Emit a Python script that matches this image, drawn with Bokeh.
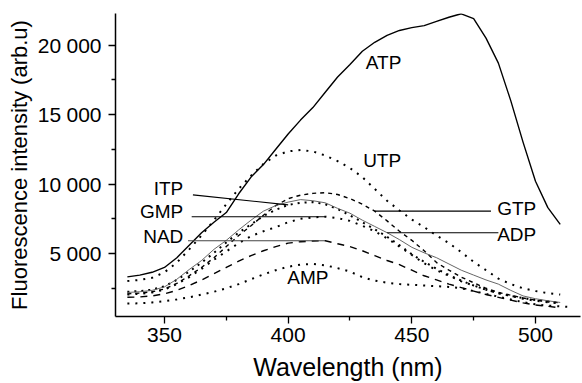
from bokeh.plotting import figure
from bokeh.models import Range1d, FixedTicker, CustomJSTickFormatter
from bokeh.core.properties import value
from bokeh.embed import file_html
from bokeh.resources import INLINE

# ---------------- data ----------------
wavelength = [335, 340, 345, 350, 355, 360, 365, 370, 375, 380, 385, 390, 395, 400,
              405, 410, 415, 420, 425, 430, 435, 440, 445, 450, 455, 460, 465, 470,
              475, 480, 485, 490, 495, 500, 505, 510, 515]

atp = [3320, 3450, 3650, 4000, 4700, 5600, 6500, 7250, 7950, 9300, 10500, 11400, 12500, 13600,
       14600, 15500, 16600, 17700, 18600, 19550, 20200, 20700, 21050, 21250, 21400, 21700, 22000, 22250,
       21900, 20500, 18700, 16000, 13000, 10200, 8300, 7100]
utp = [3020, 3100, 3250, 3650, 4350, 5300, 6300, 7400, 8550, 9650, 10600, 11450, 12050, 12350,
       12450, 12350, 12050, 11650, 11150, 10500, 9650, 8800, 8100, 7450, 6900, 6300, 5750, 5100,
       4400, 3800, 3200, 2800, 2500, 2300, 2150, 2050]
gtp = [2100, 2150, 2250, 2450, 2850, 3400, 4000, 4700, 5500, 6300, 7000, 7750, 8450, 8950,
       9200, 9330, 9380, 9250, 8950, 8550, 8050, 7350, 6600, 5950, 5200, 4350, 3800, 3300,
       2900, 2500, 2200, 2000, 1800, 1650, 1550, 1450]
adp = [2200, 2250, 2350, 2600, 3150, 3850, 4500, 5300, 5950, 6700, 7400, 8050, 8450, 8700,
       8880, 8800, 8650, 8250, 7900, 7400, 6950, 6500, 6000, 5450, 5050, 4700, 4250, 3800,
       3450, 3100, 2800, 2350, 1950, 1750, 1600, 1480]
itp = [2250, 2300, 2400, 2650, 3100, 3700, 4350, 5050, 5800, 6500, 7100, 7700, 8150, 8500,
       8650, 8700, 8550, 8200, 7750, 7250, 6750, 6200, 5600, 4950, 4400, 3900, 3450, 3050,
       2700, 2400, 2150, 1950, 1800, 1650, 1550, 1450]
gmp = [2050, 2100, 2200, 2400, 2800, 3300, 3900, 4550, 5150, 5750, 6250, 6600, 6900, 7250,
       7500, 7600, 7650, 7550, 7350, 7000, 6600, 6100, 5500, 4900, 4300, 3800, 3400, 3000,
       2700, 2400, 2150, 1950, 1750, 1600, 1500, 1400]
nad = [1850, 1880, 1950, 2100, 2350, 2700, 3100, 3550, 4000, 4450, 4850, 5200, 5500, 5750,
       5850, 5900, 5920, 5700, 5500, 5200, 4850, 4500, 4200, 3800, 3400, 3100, 2800, 2550,
       2300, 2050, 1850, 1650, 1450, 1300, 1200, 1100]
amp = [1400, 1420, 1480, 1580, 1700, 1850, 2050, 2250, 2500, 2800, 3150, 3500, 3800, 4050,
       4200, 4250, 4150, 3950, 3700, 3300, 3050, 2900, 2800, 2750, 2700, 2650, 2600, 2500,
       2300, 2100, 1900, 1700, 1500, 1350, 1250, 1200, 1150]

x_major = [350, 400, 450, 500]
x_minor = [375, 425, 475]
y_major = [5000, 10000, 15000, 20000]
y_minor = [2500, 7500, 12500, 17500]

FONT = "Liberation Sans"

p = figure(width=582, height=383, output_backend="svg", toolbar_location=None,
           x_range=Range1d(330.2, 518.2), y_range=Range1d(470, 22270),
           min_border_left=115, min_border_right=2, min_border_top=13, min_border_bottom=62)
p.outline_line_color = None
p.xgrid.visible = False
p.ygrid.visible = False
p.background_fill_color = "white"
p.border_fill_color = "white"


def xs(vals):
    return wavelength[:len(vals)]


p.line(xs(atp), atp, line_color="black", line_width=1.4)
p.line(xs(utp), utp, line_color="black", line_width=2.0, line_dash="2 6")
p.line(xs(gtp), gtp, line_color="black", line_width=1.4, line_dash="4 4")
p.line(xs(itp), itp, line_color="black", line_width=2.0, line_dash="2 5")
p.line(xs(adp), adp, line_color="#555555", line_width=0.9)
p.line(xs(gmp), gmp, line_color="black", line_width=2.0, line_dash="2 6")
p.line(xs(nad), nad, line_color="black", line_width=1.4, line_dash="7 6")
p.line(xs(amp), amp, line_color="black", line_width=2.0, line_dash="2 6")

# leader lines from labels to curves (end y read from each series)
i400 = wavelength.index(400)
i415 = wavelength.index(415)
i435 = wavelength.index(435)
i440 = wavelength.index(440)
p.line([361.5, 400], [9220, itp[i400]], line_color="black", line_width=1.1)
p.line([361.0, 415], [gmp[i415], gmp[i415]], line_color="black", line_width=1.1)
p.line([359.5, 415], [nad[i415], nad[i415]], line_color="#444444", line_width=1.1)
p.line([435, 482], [gtp[i435], gtp[i435]], line_color="black", line_width=1.1)
p.line([440, 485], [adp[i440], adp[i440]], line_color="black", line_width=1.1)

# labels
lab_size = "19px"
p.text(x=[438.6, 438.0, 408.0], y=[18760, 11690, 3300], text=["ATP", "UTP", "AMP"],
       text_align="center", text_baseline="middle", text_font=value(FONT),
       text_font_size=lab_size, text_color="black")
p.text(x=[357.6, 357.6, 357.6], y=[9670, 8040, 6220], text=["ITP", "GMP", "NAD"],
       text_align="right", text_baseline="middle", text_font=value(FONT),
       text_font_size=lab_size, text_color="black")
p.text(x=[484.5, 484.5], y=[8250, 6345], text=["GTP", "ADP"],
       text_align="left", text_baseline="middle", text_font=value(FONT),
       text_font_size=lab_size, text_color="black")

# axes
for ax in (p.xaxis[0], p.yaxis[0]):
    ax.axis_line_color = "black"
    ax.axis_line_width = 1.5
    ax.major_tick_line_color = "black"
    ax.minor_tick_line_color = "black"
    ax.major_tick_line_width = 1.3
    ax.minor_tick_line_width = 1.3
    ax.major_tick_in = 0
    ax.minor_tick_in = 0
    ax.major_tick_out = 7
    ax.minor_tick_out = 4
    ax.major_label_text_font = FONT
    ax.major_label_text_font_size = "21px"
    ax.major_label_text_color = "black"
    ax.axis_label_text_font = FONT
    ax.axis_label_text_font_style = "normal"
    ax.axis_label_text_color = "black"

p.xaxis.ticker = FixedTicker(ticks=x_major, minor_ticks=x_minor)
p.yaxis.ticker = FixedTicker(ticks=y_major, minor_ticks=y_minor)
p.yaxis.formatter = CustomJSTickFormatter(code="""
var s = Math.round(tick).toString();
if (s.length > 3) { s = s.slice(0, s.length - 3) + '\\u2005' + s.slice(s.length - 3); }
return s;
""")
p.xaxis.major_label_standoff = 4
p.yaxis.major_label_standoff = 7
p.xaxis.axis_label = "Wavelength (nm)"
p.yaxis.axis_label = "Fluorescence intensity (arb.u)"
p.xaxis.axis_label_text_font_size = "25px"
p.yaxis.axis_label_text_font_size = "22px"
p.xaxis.axis_label_standoff = 8
p.yaxis.axis_label_standoff = 3

open("out.html", "w").write(file_html(p, INLINE))
